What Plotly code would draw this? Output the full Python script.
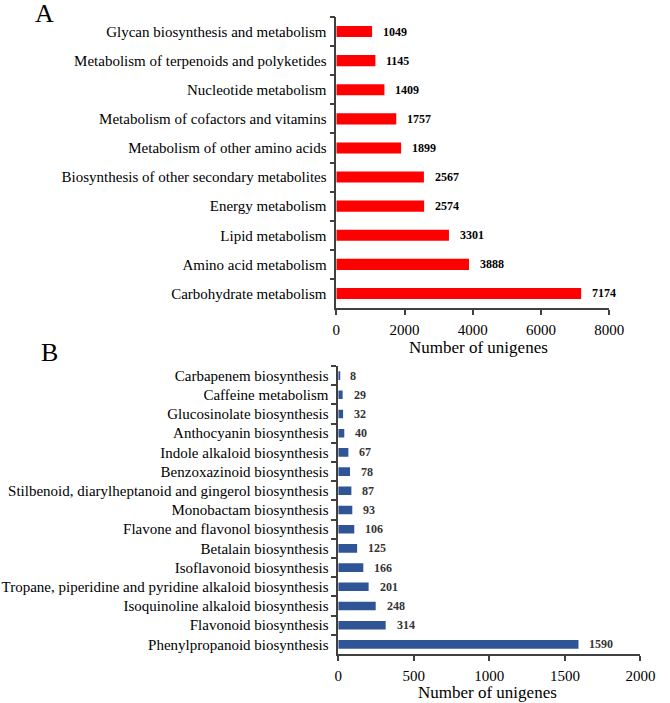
import plotly.graph_objects as go

# Panel A data (top to bottom)
a_categories = [
    "Glycan biosynthesis and metabolism",
    "Metabolism of terpenoids and polyketides",
    "Nucleotide metabolism",
    "Metabolism of cofactors and vitamins",
    "Metabolism of other amino acids",
    "Biosynthesis of other secondary metabolites",
    "Energy metabolism",
    "Lipid metabolism",
    "Amino acid metabolism",
    "Carbohydrate metabolism",
]
a_values = [1049, 1145, 1409, 1757, 1899, 2567, 2574, 3301, 3888, 7174]
a_ticks = [0, 2000, 4000, 6000, 8000]

# Panel B data (top to bottom)
b_categories = [
    "Carbapenem biosynthesis",
    "Caffeine metabolism",
    "Glucosinolate biosynthesis",
    "Anthocyanin biosynthesis",
    "Indole alkaloid biosynthesis",
    "Benzoxazinoid biosynthesis",
    "Stilbenoid, diarylheptanoid and gingerol biosynthesis",
    "Monobactam biosynthesis",
    "Flavone and flavonol biosynthesis",
    "Betalain biosynthesis",
    "Isoflavonoid biosynthesis",
    "Tropane, piperidine and pyridine alkaloid biosynthesis",
    "Isoquinoline alkaloid biosynthesis",
    "Flavonoid biosynthesis",
    "Phenylpropanoid biosynthesis",
]
b_values = [8, 29, 32, 40, 67, 78, 87, 93, 106, 125, 166, 201, 248, 314, 1590]
b_ticks = [0, 500, 1000, 1500, 2000]

FONT = "Liberation Serif"
AXC = "#404040"
W, H = 670, 703

fig = go.Figure()
fig.add_trace(go.Bar(x=a_values, y=a_categories, orientation="h",
                     marker=dict(color="#FF0000", line=dict(width=0)),
                     width=0.38, xaxis="x", yaxis="y", showlegend=False))
fig.add_trace(go.Bar(x=b_values, y=b_categories, orientation="h",
                     marker=dict(color="#2F5597", line=dict(width=0)),
                     width=0.45, xaxis="x2", yaxis="y2", showlegend=False))

annotations = []
for c, v in zip(a_categories, a_values):
    annotations.append(dict(x=v, y=c, xref="x", yref="y", text=f"<b>{v}</b>",
                            showarrow=False, xanchor="left", xshift=9,
                            font=dict(family=FONT, size=12, color="black")))
for c, v in zip(b_categories, b_values):
    annotations.append(dict(x=v, y=c, xref="x2", yref="y2", text=f"<b>{v}</b>",
                            showarrow=False, xanchor="left", xshift=9,
                            font=dict(family=FONT, size=12, color="#333333")))
annotations.append(dict(x=42 / W, y=1 - 13 / H, xref="paper", yref="paper", text="A",
                        showarrow=False, xanchor="center", yanchor="middle",
                        font=dict(family=FONT, size=26, color="black")))
annotations.append(dict(x=47 / W, y=1 - 352 / H, xref="paper", yref="paper", text="B",
                        showarrow=False, xanchor="center", yanchor="middle",
                        font=dict(family=FONT, size=26, color="black")))
annotations.append(dict(x=488 / W, y=1 - 347 / H, xref="paper", yref="paper",
                        text="Number of unigenes", showarrow=False,
                        xanchor="center", yanchor="middle",
                        font=dict(family=FONT, size=17, color="black")))
annotations.append(dict(x=498 / W, y=1 - 692 / H, xref="paper", yref="paper",
                        text="Number of unigenes", showarrow=False,
                        xanchor="center", yanchor="middle",
                        font=dict(family=FONT, size=17, color="black")))

xcommon = dict(showgrid=False, zeroline=False, showline=True, linecolor=AXC, linewidth=1.5,
               ticks="outside", ticklen=5, tickwidth=1.5, tickcolor=AXC,
               ticklabelstandoff=2,
               tickfont=dict(family=FONT, size=15, color="black"))
ycommon = dict(showgrid=False, zeroline=False, showline=True, linecolor=AXC, linewidth=1.5,
               ticks="outside", ticklen=5, tickwidth=1.5, tickcolor=AXC, tickson="boundaries",
               ticklabelstandoff=5,
               autorange="reversed", type="category")

fig.update_layout(
    width=W, height=H, margin=dict(l=0, r=0, t=0, b=0),
    paper_bgcolor="white", plot_bgcolor="white",
    bargap=0.6,
    xaxis=dict(domain=[342 / W, 623 / W], anchor="y", range=[0, 8000],
               tickvals=a_ticks, **xcommon),
    yaxis=dict(domain=[1 - 308 / H, 1 - 17 / H], anchor="x",
               tickfont=dict(family=FONT, size=15, color="black"), **ycommon),
    xaxis2=dict(domain=[344 / W, 655 / W], anchor="y2", range=[0, 2000],
                tickvals=b_ticks, **xcommon),
    yaxis2=dict(domain=[1 - 654 / H, 1 - 366 / H], anchor="x2",
                tickfont=dict(family=FONT, size=15, color="black"), **ycommon),
    annotations=annotations,
)

fig.write_html("out.html", config={"displayModeBar": False},
               post_script="document.body.style.margin='0';")
